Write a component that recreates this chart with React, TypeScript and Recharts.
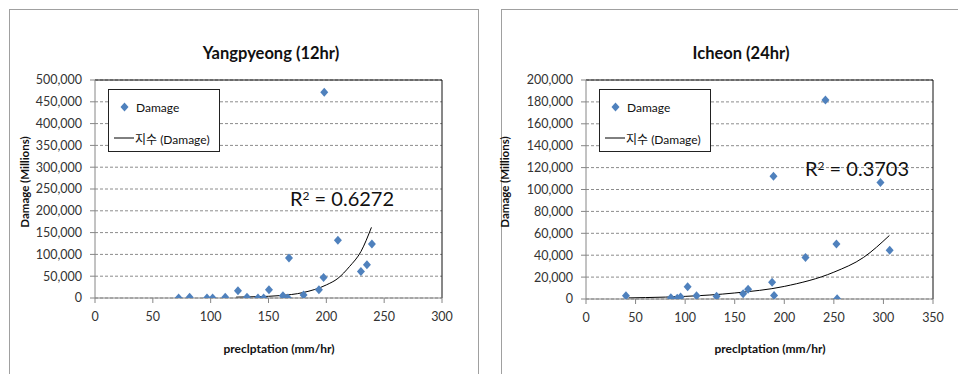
import React from 'react';
import { ComposedChart, Scatter, Line, XAxis, YAxis, CartesianGrid, ReferenceLine } from 'recharts';

// ---- Yangpyeong (12hr) ----
const yangX = [72.3, 81.8, 96.8, 101.7, 112.6, 123.6, 131.4, 140.9, 145.8, 150.4, 162.5, 166.8, 167.7, 180.3, 193.6, 197.6, 198.2, 210, 229.9, 235.1, 239.4];
const yangDamage = [0, 2000, 0, 0, 2000, 16700, 2000, 0, 0, 19000, 5000, 0, 92000, 7000, 19000, 47000, 471800, 132600, 60600, 76500, 124000];
const yangTrendX = [122, 140, 160, 180, 200, 210, 220, 230, 239];
const yangTrendY = [2000, 3000, 5500, 12500, 30000, 45000, 72000, 107000, 162000];
const yangXTicks = [0, 50, 100, 150, 200, 250, 300];
const yangYTicks = [0, 50000, 100000, 150000, 200000, 250000, 300000, 350000, 400000, 450000, 500000];

// ---- Icheon (24hr) ----
const icheonX = [40.3, 85.6, 92, 95.4, 102.5, 111.5, 131.7, 158.5, 163.5, 187.7, 189.1, 189.7, 221.4, 241.5, 252.6, 253.3, 297, 306.3];
const icheonDamage = [3000, 1200, 600, 1800, 11200, 3000, 2400, 4900, 8800, 15200, 112200, 3300, 38000, 181700, 50200, 300, 106500, 44500];
const icheonTrendX = [43, 60, 100, 150, 200, 250, 280, 306];
const icheonTrendY = [1000, 1300, 2400, 5500, 11500, 24500, 38000, 58000];
const icheonXTicks = [0, 50, 100, 150, 200, 250, 300, 350];
const icheonYTicks = [0, 20000, 40000, 60000, 80000, 100000, 120000, 140000, 160000, 180000, 200000];

const FONT = "Lato, 'Noto Sans CJK KR', sans-serif";
const BLUE = '#4F81BD';

const Diamond = (props: any) => {
  const { cx, cy } = props;
  if (cx == null || cy == null) return null;
  return <path d={`M${cx},${cy - 4.5}L${cx + 4},${cy}L${cx},${cy + 4.5}L${cx - 4},${cy}Z`} fill={BLUE} />;
};

const fmt = (v: number) => v.toLocaleString('en-US');

type PanelProps = {
  left: number;
  width: number;
  yAxisWidth: number;
  marginRight: number;
  top: number;
  bottomSpace: number;
  xs: number[];
  ys: number[];
  tx: number[];
  ty: number[];
  xTicks: number[];
  yTicks: number[];
  title: string;
  titleX: number;
  r2: string;
  r2X: number;
  r2Y: number;
  xLabelX: number;
};

const Panel = (p: PanelProps) => {
  const pts = p.xs.map((x, i) => ({ x, y: p.ys[i] }));
  const trend = p.tx.map((x, i) => ({ x, y: p.ty[i] }));
  const xMax = p.xTicks[p.xTicks.length - 1];
  const yMax = p.yTicks[p.yTicks.length - 1];
  const height = 374;
  const plotLeft = p.left + p.yAxisWidth;
  return (
    <>
      <div style={{ position: 'absolute', left: p.left, top: 0 }}>
        <ComposedChart
          width={p.width}
          height={height}
          margin={{ top: p.top, right: p.marginRight, left: 0, bottom: p.bottomSpace - 30 }}
          style={{ fontFamily: FONT }}
        >
          <CartesianGrid vertical={false} stroke="#8c8c8c" strokeDasharray="3 2" />
          <XAxis
            type="number"
            dataKey="x"
            domain={[0, xMax]}
            ticks={p.xTicks}
            interval={0}
            height={30}
            stroke="#868686"
            tickSize={5}
            tickMargin={9}
            tick={{ fill: '#333', fontSize: 12.5, fontFamily: FONT }}
            allowDataOverflow
          />
          <YAxis
            type="number"
            dataKey="y"
            domain={[0, yMax]}
            ticks={p.yTicks}
            interval={0}
            width={p.yAxisWidth}
            stroke="#868686"
            tickSize={5}
            tickMargin={8}
            tickFormatter={fmt}
            tick={{ fill: '#333', fontSize: 12.5, fontFamily: FONT }}
            allowDataOverflow
          />
          <ReferenceLine y={yMax} stroke="#111" strokeWidth={1} />
          <ReferenceLine x={xMax} stroke="#111" strokeWidth={1} />
          <Line data={trend} dataKey="y" type="monotone" stroke="#000" strokeWidth={1} dot={false} isAnimationActive={false} legendType="line" />
          <Scatter data={pts} dataKey="y" shape={<Diamond />} isAnimationActive={false} />
        </ComposedChart>
      </div>
      {/* title */}
      <div style={{ position: 'absolute', left: p.titleX - 150, top: 42, width: 300, textAlign: 'center', fontFamily: FONT, fontWeight: 700, fontSize: 16.5, color: '#111', lineHeight: '22px' }}>
        {p.title}
      </div>
      {/* y label */}
      <div style={{ position: 'absolute', left: p.left + 16 + 9 - 100, top: 182 - 8, width: 200, height: 16, textAlign: 'center', transform: 'rotate(-90deg)', fontFamily: FONT, fontWeight: 700, fontSize: 11.5, color: '#111', lineHeight: '16px' }}>
        Damage (Millions)
      </div>
      {/* x label */}
      <div style={{ position: 'absolute', left: p.xLabelX - 100, top: 341, width: 200, textAlign: 'center', fontFamily: FONT, fontWeight: 700, fontSize: 12, color: '#111', lineHeight: '16px' }}>
        preclptation (mm/hr)
      </div>
      {/* legend */}
      <div style={{ position: 'absolute', left: plotLeft + 13, top: 89, width: 110, height: 61, border: '1px solid #222', background: '#fff', fontFamily: FONT, fontSize: 12, color: '#111' }}>
        <div style={{ position: 'absolute', left: 11, top: 9, height: 16, display: 'flex', alignItems: 'center' }}>
          <svg width={9} height={10} style={{ marginRight: 7 }}>
            <path d="M4.5,0.5L8.5,5L4.5,9.5L0.5,5Z" fill={BLUE} />
          </svg>
          <span>Damage</span>
        </div>
        <div style={{ position: 'absolute', left: 5, top: 40, height: 16, display: 'flex', alignItems: 'center' }}>
          <svg width={20} height={4} style={{ marginRight: 1 }}>
            <line x1={0} y1={2} x2={20} y2={2} stroke="#000" strokeWidth={1} />
          </svg>
          <span>지수 (Damage)</span>
        </div>
      </div>
      {/* R2 */}
      <div style={{ position: 'absolute', left: p.r2X, top: p.r2Y - 14, fontFamily: FONT, fontSize: 20, color: '#111', lineHeight: '28px', whiteSpace: 'nowrap' }}>
        R<sup style={{ fontSize: 12, verticalAlign: 'top', position: 'relative', top: -2 }}>2</sup> = {p.r2}
      </div>
    </>
  );
};

export default function App() {
  return (
    <div style={{ position: 'absolute', left: 0, top: 0, width: 958, height: 374, overflow: 'hidden', background: '#fff' }}>
      <div style={{ position: 'absolute', left: 9, top: 9, width: 468, height: 400, border: '1px solid #a0a0a0' }} />
      <div style={{ position: 'absolute', left: 501, top: 9, width: 500, height: 400, border: '1px solid #a0a0a0' }} />
      <Panel
        left={0}
        width={470}
        yAxisWidth={95}
        marginRight={28}
        top={80}
        bottomSpace={76}
        xs={yangX}
        ys={yangDamage}
        tx={yangTrendX}
        ty={yangTrendY}
        xTicks={yangXTicks}
        yTicks={yangYTicks}
        title="Yangpyeong (12hr)"
        titleX={271}
        r2="0.6272"
        r2X={290}
        r2Y={198}
        xLabelX={279}
      />
      <Panel
        left={480}
        width={478}
        yAxisWidth={106}
        marginRight={25}
        top={80}
        bottomSpace={75}
        xs={icheonX}
        ys={icheonDamage}
        tx={icheonTrendX}
        ty={icheonTrendY}
        xTicks={icheonXTicks}
        yTicks={icheonYTicks}
        title="Icheon (24hr)"
        titleX={741}
        r2="0.3703"
        r2X={805}
        r2Y={168}
        xLabelX={770}
      />
    </div>
  );
}
